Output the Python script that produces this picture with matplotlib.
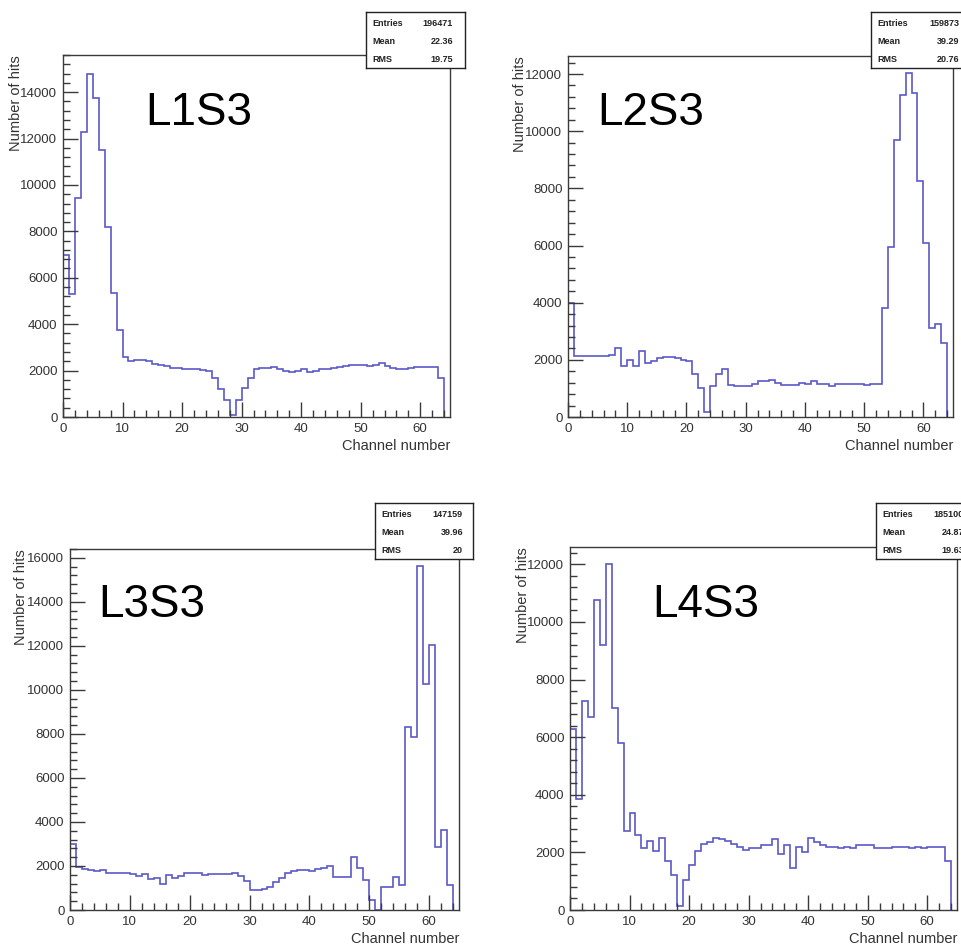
"""Hit maps per channel for the four S3 layers (ROOT-style histograms)."""

import matplotlib

matplotlib.use("Agg")
import matplotlib.pyplot as plt
import numpy as np
from matplotlib.ticker import MultipleLocator

plt.rcParams["font.family"] = ["Liberation Sans", "DejaVu Sans"]

W, H = 961, 946

edges = np.arange(0, 65)

l1s3_hits = [
    7000, 5300, 9450, 12300, 14800, 13750, 11500, 8200, 5350, 3750,
    2600, 2400, 2450, 2450, 2400, 2300, 2250, 2180, 2120, 2100,
    2080, 2060, 2050, 2030, 2000, 1700, 1200, 720, 100, 720,
    1250, 1700, 2080, 2100, 2110, 2150, 2080, 2000, 1950, 2000,
    2050, 1950, 2000, 2080, 2050, 2110, 2160, 2200, 2230, 2250,
    2230, 2200, 2260, 2330, 2200, 2100, 2050, 2080, 2110, 2160,
    2160, 2160, 2160, 1680,
]
l2s3_hits = [
    4000, 2150, 2150, 2150, 2130, 2150, 2150, 2170, 2400, 1790,
    2000, 1790, 2300, 1880, 1950, 2050, 2100, 2100, 2050, 2000,
    1950, 1500, 1000, 180, 1100, 1490, 1670, 1130, 1100, 1080,
    1080, 1150, 1250, 1250, 1300, 1200, 1120, 1120, 1120, 1200,
    1150, 1250, 1170, 1150, 1100, 1150, 1150, 1150, 1150, 1150,
    1120, 1150, 1150, 3800, 5950, 9700, 11250, 12030, 11350, 8250,
    6100, 3100, 3250, 2600,
]
l3s3_hits = [
    3000, 1950, 1850, 1800, 1750, 1800, 1700, 1700, 1700, 1700,
    1650, 1550, 1650, 1400, 1450, 1200, 1600, 1450, 1550, 1700,
    1700, 1700, 1600, 1650, 1650, 1650, 1650, 1700, 1550, 1300,
    900, 900, 950, 1050, 1250, 1450, 1700, 1750, 1800, 1800,
    1750, 1850, 1900, 2000, 1500, 1500, 1500, 2400, 1900, 1350,
    450, 0, 1050, 1050, 1500, 1150, 8300, 7850, 15650, 10250,
    12050, 2850, 3650, 1150,
]
l4s3_hits = [
    6300, 3850, 7250, 6700, 10750, 9200, 12000, 7000, 5800, 2750,
    3350, 2600, 2150, 2400, 2050, 2500, 1700, 1200, 150, 1050,
    1550, 2050, 2300, 2350, 2500, 2450, 2400, 2300, 2200, 2100,
    2150, 2150, 2250, 2250, 2450, 1950, 2250, 1450, 2200, 2000,
    2500, 2350, 2250, 2200, 2200, 2150, 2200, 2150, 2250, 2250,
    2250, 2150, 2150, 2150, 2200, 2200, 2200, 2150, 2200, 2150,
    2200, 2200, 2200, 1700,
]

names = ["L1S3", "L2S3", "L3S3", "L4S3"]
series = [l1s3_hits, l2s3_hits, l3s3_hits, l4s3_hits]
entries = ["196471", "159873", "147159", "185100"]
means = ["22.36", "39.29", "39.96", "24.87"]
rms = ["19.75", "20.76", "20", "19.63"]
ymax = [15600, 12630, 16400, 12600]

# pixel layout: (left, top, right, bottom)
axes_px = [(63, 55, 450, 417), (568, 56, 953, 417), (70, 549, 459, 910), (570, 547, 957, 910)]
stat_px = [(366, 12, 465, 68), (871, 12, 985, 68), (375, 503, 473, 559), (876, 503, 985, 559)]
stat_val_x = [453, 959, 463, 964]
name_px = [(145, 125), (597, 125), (98, 617), (652, 617)]
ylabel_right_px = [23, 527, 28, 530]

LINE = "#5a5ac8"
FRAME = "#3a3a3a"


def rect(l, t, r, b):
    return [l / W, 1 - b / H, (r - l) / W, (b - t) / H]


fig = plt.figure(figsize=(W / 100, H / 100), dpi=100)
fig.patch.set_facecolor("white")

for i in range(4):
    l, t, r, b = axes_px[i]
    ax = fig.add_axes(rect(l, t, r, b))
    ax.stairs(series[i], edges, baseline=0, color=LINE, linewidth=1.2)
    ax.set_xlim(0, 65)
    ax.set_ylim(0, ymax[i])
    ax.xaxis.set_major_locator(MultipleLocator(10))
    ax.xaxis.set_minor_locator(MultipleLocator(2))
    ax.yaxis.set_major_locator(MultipleLocator(2000))
    ax.yaxis.set_minor_locator(MultipleLocator(400))
    ax.tick_params(which="both", direction="in", top=False, right=False,
                   colors=FRAME, labelcolor="#333333", labelsize=9.5, width=1)
    ax.tick_params(which="major", length=11, pad=4)
    ax.tick_params(which="minor", length=5)
    for s in ax.spines.values():
        s.set_color(FRAME)
        s.set_linewidth(1.0)

    ax.set_ylabel("Number of hits", loc="top", fontsize=10.5, color="#333333")
    ax.yaxis.set_label_coords((ylabel_right_px[i] - l) / (r - l), 1.0)
    ax.set_xlabel("Channel number", loc="right", fontsize=10.5, color="#333333")
    ax.xaxis.set_label_coords(1.0, -22 / (b - t))

    nx, ny = name_px[i]
    fig.text(nx / W, 1 - ny / H, names[i], fontsize=33, color="black", va="baseline")

    sl, st, sr, sb = stat_px[i]
    sax = fig.add_axes(rect(sl, st, sr, sb))
    sax.set_xticks([])
    sax.set_yticks([])
    sax.set_facecolor("white")
    for s in sax.spines.values():
        s.set_color("#222222")
        s.set_linewidth(1.0)
    rows = [("Entries", entries[i]), ("Mean", means[i]), ("RMS", rms[i])]
    for k, (lab, val) in enumerate(rows):
        yy = st + 11 + 18 * k
        fig.text((sl + 6) / W, 1 - yy / H, lab, fontsize=6.5, fontweight="bold",
                 va="center", ha="left", color="#222222")
        fig.text(stat_val_x[i] / W, 1 - yy / H, val, fontsize=6.5, fontweight="bold",
                 va="center", ha="right", color="#222222")

fig.savefig("out.png", dpi=100)
